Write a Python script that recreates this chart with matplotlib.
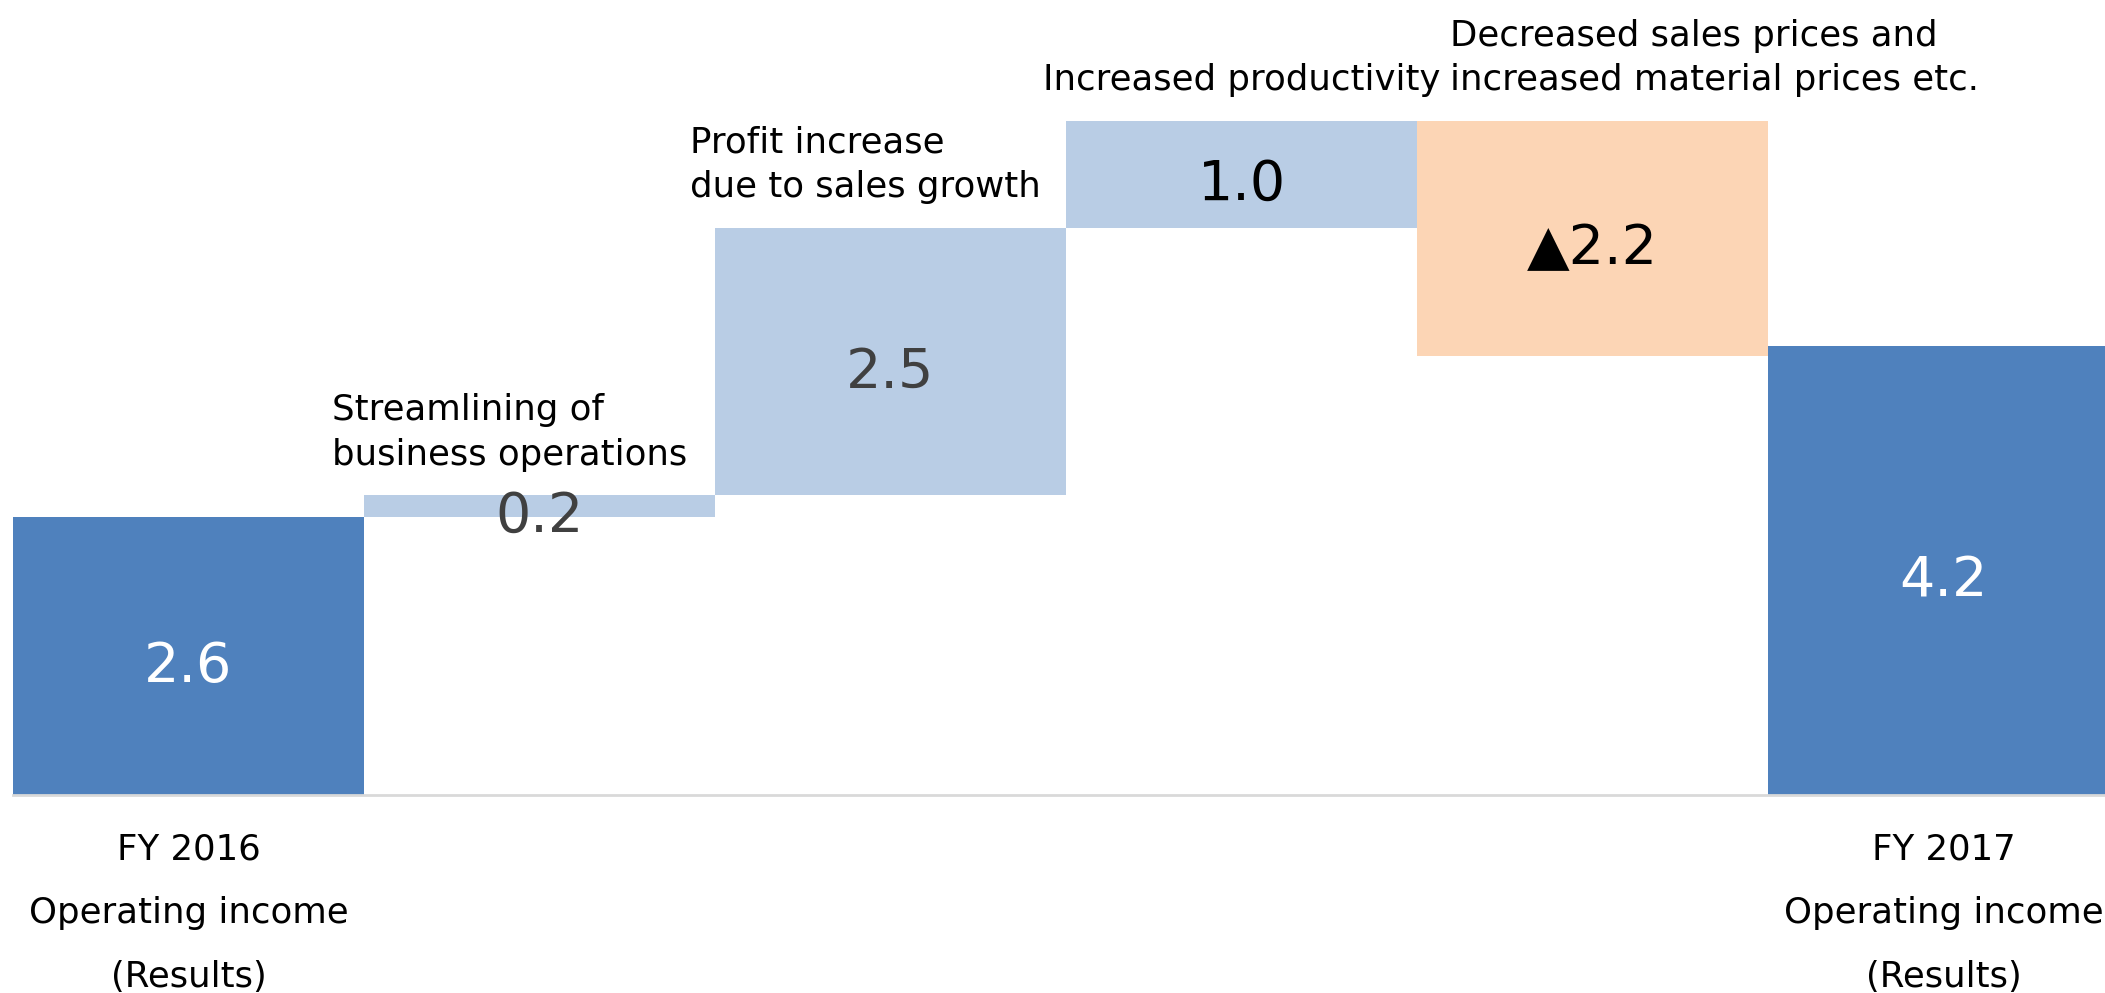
import matplotlib
matplotlib.use("Agg")
import matplotlib.pyplot as plt

# waterfall data (100 million yen)
categories = ["FY 2016\nOperating income\n(Results)", "", "", "", "",
              "FY 2017\nOperating income\n(Results)"]
values = [2.6, 0.2, 2.5, 1.0, -2.2, 4.2]
kinds = ["total", "delta", "delta", "delta", "delta", "total"]
value_labels = ["2.6", "0.2", "2.5", "1.0", "\u25b22.2", "4.2"]
notes = [None,
         "Streamlining of\nbusiness operations",
         "Profit increase\ndue to sales growth",
         "Increased productivity",
         "Decreased sales prices and\nincreased material prices etc.",
         None]

# styling / layout
note_x = [None, 0.41, 1.43, 3.0, 3.595, None]
note_ha = [None, "left", "left", "center", "left", None]
label_colors = ["white", "#404040", "#404040", "black", "black", "white"]
DARK = "#4F81BD"
LIGHT = "#B9CDE5"
PEACH = "#FCD5B5"

plt.rcParams["font.family"] = "DejaVu Sans"

fig = plt.figure(figsize=(21.05, 9.93), dpi=100)
ax = fig.add_axes([13 / 2105, 198 / 993, (2105 - 13) / 2105, 795 / 993])

bottoms, heights, colors = [], [], []
running = 0.0
for v, k in zip(values, kinds):
    if k == "total":
        bottoms.append(0.0)
        heights.append(v)
        colors.append(DARK)
        running = v
    elif v >= 0:
        bottoms.append(running)
        heights.append(v)
        colors.append(LIGHT)
        running += v
    else:
        running += v
        bottoms.append(running)
        heights.append(-v)
        colors.append(PEACH)

x = list(range(len(values)))
ax.bar(x, heights, bottom=bottoms, width=1.0, color=colors, linewidth=0)

for i in x:
    mid = bottoms[i] + heights[i] / 2
    ax.text(i, mid - 0.1, value_labels[i], ha="center", va="center",
            fontsize=40, color=label_colors[i])
    if notes[i]:
        top = bottoms[i] + heights[i]
        ax.text(note_x[i], top + 0.22, notes[i], ha=note_ha[i], va="bottom",
                fontsize=25.6, color="black", linespacing=1.4)

ax.set_xlim(-0.5, 5.46)
ax.set_ylim(0, 7.43)
ax.set_yticks([])
ax.set_xticks([0, 5])
ax.set_xticklabels([categories[0], categories[5]], fontsize=25.6,
                   linespacing=2.1)
ax.tick_params(axis="x", length=0, pad=27)
for s in ["top", "left", "right"]:
    ax.spines[s].set_visible(False)
ax.spines["bottom"].set_color("#d9d9d9")
ax.spines["bottom"].set_linewidth(2)

fig.savefig("out.png", dpi=100)
